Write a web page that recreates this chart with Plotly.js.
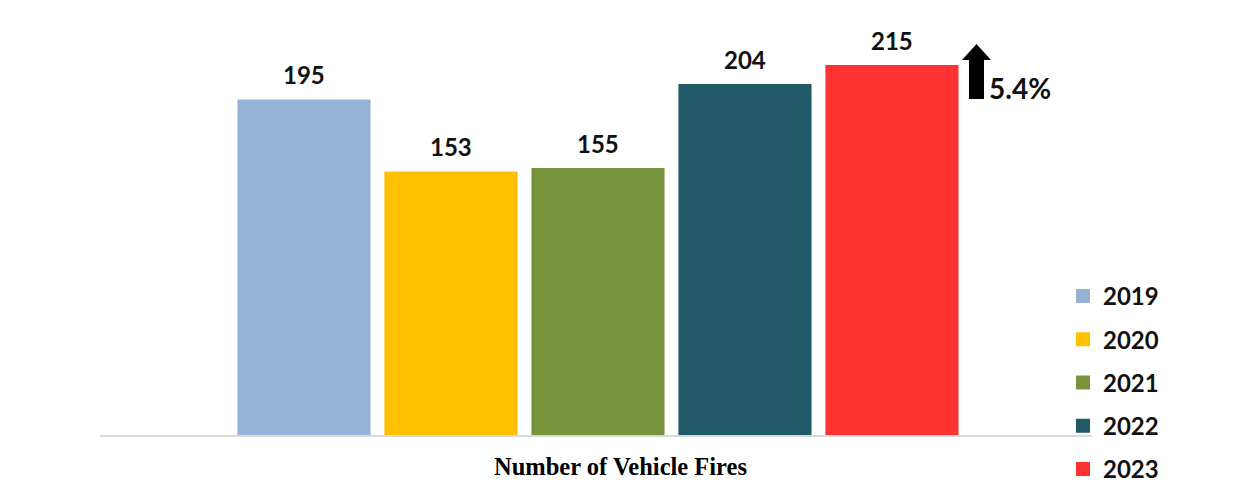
<!DOCTYPE html>
<html>
<head>
<meta charset="utf-8">
<script src="https://cdn.plot.ly/plotly-3.0.1.min.js"></script>
<style>html,body{margin:0;padding:0;background:#fff;}#chart{width:1255px;height:486px;}</style>
</head>
<body>
<div id="chart"></div>
<script>
const years = ['2019', '2020', '2021', '2022', '2023'];
const fires = [195, 153, 155, 204, 215];
const colors = ['#95B3D7', '#FFC000', '#77933C', '#215968', '#FF3232'];
const changeLabel = '5.4%';
const axisTitle = 'Number of Vehicle Fires';

const W = 1255, H = 486;
const M = {l: 100, r: 163, t: 6, b: 51, autoexpand: false};
const PW = W - M.l - M.r, PH = H - M.t - M.b;
function px(x) { return (x - M.l) / PW; }
function py(y) { return (H - M.b - y) / PH; }

const labelFont = {family: 'Lato, "Open Sans", sans-serif', size: 24, color: '#111', weight: 700};

const traces = years.map((yr, i) => ({
  type: 'bar',
  x: [yr],
  y: [fires[i]],
  name: yr,
  legendgroup: 'g' + i,
  marker: {color: colors[i], line: {width: 2, color: colors[i]}},
  hoverinfo: 'x+y'
}));

const annotations = years.map((yr, i) => ({
  x: i, y: fires[i], xref: 'x', yref: 'y',
  text: String(fires[i]), showarrow: false,
  xanchor: 'center', yanchor: 'bottom', yshift: 9,
  font: labelFont
}));

annotations.push({
  xref: 'paper', yref: 'paper', x: px(1020), y: py(88),
  xanchor: 'center', yanchor: 'middle',
  text: changeLabel, showarrow: false,
  font: {family: 'Lato, "Open Sans", sans-serif', size: 28, color: '#111', weight: 700}
});
annotations.push({
  xref: 'paper', yref: 'paper', x: px(620), y: py(467),
  xanchor: 'center', yanchor: 'middle',
  text: axisTitle, showarrow: false,
  font: {family: '"Liberation Serif", "Times New Roman", serif', size: 24.5, color: '#000', weight: 700}
});

// up-arrow decoration (pixel outline converted to paper units)
const arrowPts = [[976.5, 44], [991, 60], [984, 60], [984, 99], [969, 99], [969, 60], [962, 60]];
const arrowPath = 'M' + arrowPts.map(p => px(p[0]).toFixed(5) + ',' + py(p[1]).toFixed(5)).join(' L') + ' Z';

const layout = {
  width: W, height: H,
  margin: M,
  paper_bgcolor: '#ffffff',
  plot_bgcolor: '#ffffff',
  barmode: 'overlay',
  bargap: 0.108,
  xaxis: {
    type: 'category',
    range: [-1.388, 5.361],
    showticklabels: false,
    ticks: '',
    showgrid: false,
    zeroline: false,
    showline: true,
    linecolor: '#D9D9D9',
    linewidth: 1.5,
    fixedrange: true
  },
  yaxis: {
    range: [0, 250],
    visible: false,
    fixedrange: true
  },
  showlegend: true,
  legend: {
    x: px(1063), xanchor: 'left',
    y: py(274), yanchor: 'top',
    font: labelFont,
    tracegroupgap: 9,
    bgcolor: 'rgba(0,0,0,0)',
    traceorder: 'grouped'
  },
  annotations: annotations,
  shapes: [{
    type: 'path', xref: 'paper', yref: 'paper',
    path: arrowPath,
    fillcolor: '#000000', line: {width: 0}
  }]
};

Plotly.newPlot('chart', traces, layout, {displayModeBar: false, staticPlot: true});
</script>
</body>
</html>
